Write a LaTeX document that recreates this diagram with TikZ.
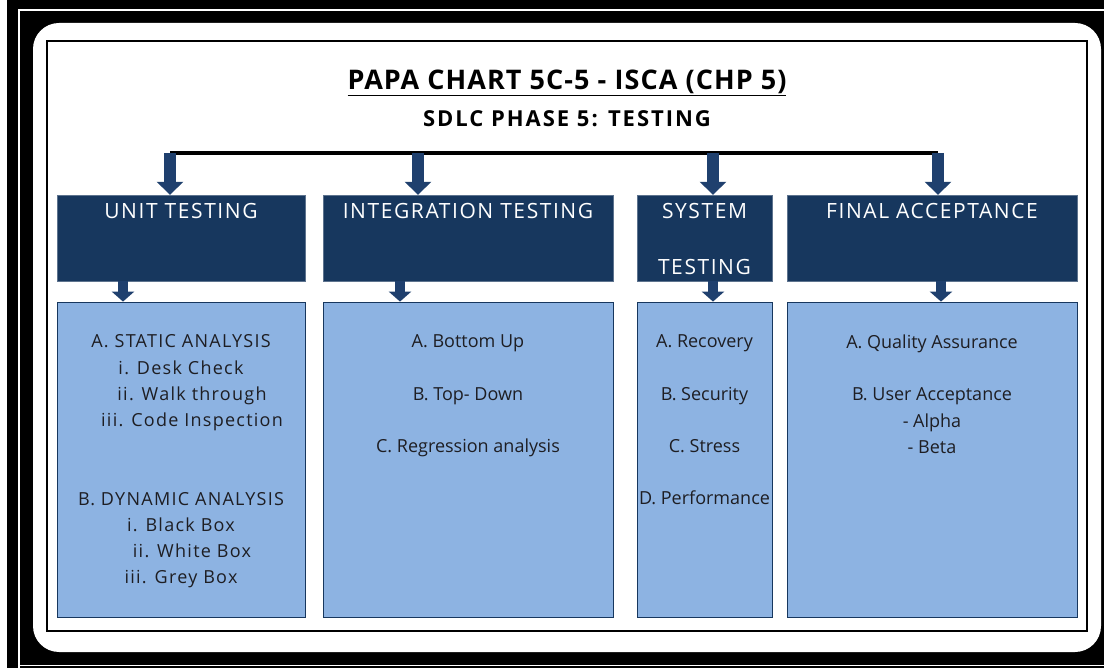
\documentclass[tikz,border=0pt]{standalone}
\usepackage{fontspec}
\setmainfont{Open Sans}
\usepackage{xcolor}
\usetikzlibrary{arrows.meta,positioning,calc}
\definecolor{headnavy}{RGB}{23,55,94}
\definecolor{boxblue}{RGB}{141,179,226}
\definecolor{arrownavy}{RGB}{31,64,110}
\definecolor{textdark}{RGB}{30,30,35}

\begin{document}
\begin{tikzpicture}[
    x=1pt, y=-1pt,
    head/.style={rectangle, draw=headnavy!70!white, fill=headnavy, minimum height=86pt, inner sep=0pt},
    headtext/.style={text=white, font=\fontsize{21}{28}\selectfont\addfontfeatures{LetterSpace=7.5}, align=center, inner sep=0pt},
    detail/.style={rectangle, draw=headnavy, line width=0.8pt, fill=boxblue, minimum height=315pt, inner sep=0pt},
    detailtext/.style={text=textdark, font=\fontsize{18}{26.2}\selectfont, align=center, inner sep=0pt},
    widetext/.style={font=\fontsize{18}{26.2}\selectfont\addfontfeatures{LetterSpace=7}},
    bigarrow/.style={draw=arrownavy, line width=12pt, -{Triangle[width=26pt,length=13pt]}},
    smallarrow/.style={draw=arrownavy, line width=10pt, -{Triangle[width=22pt,length=10pt]}},
    busline/.style={line width=4pt}
]
\useasboundingbox (0,0) rectangle (1104,668);

% frame
\fill[black] (0,0) rectangle (1104,668);
\fill[white] (0,0) rectangle (7,668);
\draw[white, line width=1.5pt] (19,668) -- (19,10) -- (1104,10);
\draw[white, line width=1.5pt] (19,665.5) -- (1104,665.5);
\fill[white, rounded corners=26pt] (33,23) rectangle (1101,652);
\draw[line width=1.3pt] (47,41) rectangle (1087,631);

% titles
\node[font=\fontsize{27}{30}\bfseries\selectfont\addfontfeatures{LetterSpace=4}, anchor=base] (title) at (567,90) {\underline{PAPA CHART 5C-5 - ISCA (CHP 5)}};
\node[font=\fontsize{22}{26}\bfseries\selectfont\addfontfeatures{LetterSpace=9}, anchor=base] (subtitle) at (567,127) {SDLC PHASE 5: TESTING};

% phase boxes
\node[head, minimum width=248pt] (unit) at (181,238) {};
\node[head, minimum width=290pt] (integ) at (468,238) {};
\node[head, minimum width=135pt] (system) at (704.5,238) {};
\node[head, minimum width=290pt] (final) at (932,238) {};

\node[headtext, below=8pt of unit.north] (unitlbl) {UNIT TESTING};
\node[headtext, below=8pt of integ.north] (integlbl) {INTEGRATION TESTING};
\node[headtext, below=8pt of system.north] (systemlbl) {SYSTEM\\[28pt]TESTING};
\node[headtext, below=8pt of final.north] (finallbl) {FINAL ACCEPTANCE};

% detail boxes
\node[detail, minimum width=248pt] (unitbox) at (181,459.5) {};
\node[detail, minimum width=290pt] (integbox) at (468,459.5) {};
\node[detail, minimum width=135pt] (systembox) at (704.5,459.5) {};
\node[detail, minimum width=290pt] (finalbox) at (932,459.5) {};

\node[detailtext, widetext, below=33pt of unitbox.north] (unittxt) {A. STATIC ANALYSIS\\
  i. Desk Check\\
  \hspace*{22pt}ii. Walk through\\
  \hspace*{22pt}iii. Code Inspection\\[52.4pt]
  B. DYNAMIC ANALYSIS\\
  i. Black Box\\
  \hspace*{22pt}ii. White Box\\
  iii. Grey Box};
\node[detailtext, below=33pt of integbox.north] (integtxt) {A. Bottom Up\\[26.2pt]
  B. Top- Down\\[26.2pt]
  C. Regression analysis};
\node[detailtext, below=33pt of systembox.north] (systemtxt) {A. Recovery\\[26.2pt]
  B. Security\\[26.2pt]
  C. Stress\\[26.2pt]
  D. Performance};
\node[detailtext, below=33pt of finalbox.north] (finaltxt) {A. Quality Assurance\\[26.2pt]
  B. User Acceptance\\
  - Alpha\\
  - Beta};

% bus and arrows
\coordinate (bus1) at (170,153);
\coordinate (bus2) at (418,153);
\coordinate (bus3) at (713,153);
\coordinate (bus4) at (938,153);
\draw[busline] (bus1) -- (bus4);
\draw[bigarrow] (bus1) -- (bus1 |- unit.north);
\draw[bigarrow] (bus2) -- (bus2 |- integ.north);
\draw[bigarrow] (bus3) -- (bus3 |- system.north);
\draw[bigarrow] (bus4) -- (bus4 |- final.north);

\draw[smallarrow] ([xshift=-58pt]unit.south) -- ([xshift=-58pt]unitbox.north);
\draw[smallarrow] ([xshift=-68pt]integ.south) -- ([xshift=-68pt]integbox.north);
\draw[smallarrow] ([xshift=8.5pt]system.south) -- ([xshift=8.5pt]systembox.north);
\draw[smallarrow] ([xshift=9pt]final.south) -- ([xshift=9pt]finalbox.north);

\end{tikzpicture}
\end{document}
